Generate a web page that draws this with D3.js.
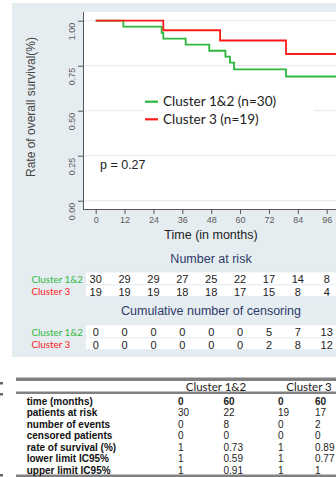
<!DOCTYPE html>
<html>
<head>
<meta charset="utf-8">
<script src="https://cdn.jsdelivr.net/npm/d3@7/dist/d3.min.js"></script>
<style>
  html, body { margin: 0; padding: 0; background: #fff; overflow: hidden; }
  svg { display: block; }
</style>
</head>
<body>
<svg id="chart" width="336" height="477"></svg>
<script>
// Kaplan-Meier steps (time in months, survival probability)
const greenTimes = [0, 11.5, 27.4, 28.1, 37.4, 47.2, 53.9, 55.8, 57.5, 79.1, 110];
const greenSurv  = [1, 0.967, 0.933, 0.9, 0.867, 0.833, 0.8, 0.767, 0.73, 0.69, 0.69];
const redTimes   = [0, 28.1, 51.7, 79.1, 110];
const redSurv    = [1, 0.947, 0.89, 0.815, 0.815];

const seriesNames = ["Cluster 1&2 (n=30)", "Cluster 3 (n=19)"];
const groupNames  = ["Cluster 1&2", "Cluster 3"];

const xTicks = [0, 12, 24, 36, 48, 60, 72, 84, 96];
const yTicks = [0, 0.25, 0.5, 0.75, 1];

// Number at risk and cumulative censoring at each x tick
const atRiskGreen = [30, 29, 29, 27, 25, 22, 17, 14, 8];
const atRiskRed   = [19, 19, 19, 18, 18, 17, 15, 8, 4];
const censGreen   = [0, 0, 0, 0, 0, 0, 5, 7, 13];
const censRed     = [0, 0, 0, 0, 0, 0, 2, 8, 12];

// Summary table
const tableRowLabels = ["time (months)", "patients at risk", "number of events",
  "censored patients", "rate of survival (%)", "lower limit IC95%", "upper limit IC95%"];
const tableGreen0  = ["0", "30", "0", "0", "1", "1", "1"];
const tableGreen60 = ["60", "22", "8", "0", "0.73", "0.59", "0.91"];
const tableRed0    = ["0", "19", "0", "0", "1", "1", "1"];
const tableRed60   = ["60", "17", "2", "0", "0.89", "0.77", "1"];

const GREEN = "#2db83d";
const RED = "#ff1a1a";
const AXIS = "#555";
const ARIAL = "'Liberation Sans', Arial, sans-serif";
const CAL = "Lato, 'Open Sans', sans-serif";

const svg = d3.select("#chart");

// Panel background
svg.append("rect").attr("x", 12).attr("y", 3).attr("width", 330).attr("height", 354)
  .attr("fill", "#e6edf1");

// Plot region
const plotL = 83, plotT = 12, plotB = 209, plotR = 340;
svg.append("rect").attr("x", plotL).attr("y", plotT)
  .attr("width", plotR - plotL).attr("height", plotB - plotT).attr("fill", "#fff");

const x = d3.scaleLinear().domain([0, 96]).range([95.7, 326.7]);
const y = d3.scaleLinear().domain([0, 1]).range([200.7, 20.7]);

// Gridlines
svg.append("g").selectAll("line").data(yTicks).join("line")
  .attr("x1", plotL).attr("x2", plotR)
  .attr("y1", d => y(d)).attr("y2", d => y(d))
  .attr("stroke", "#e1eaf0").attr("stroke-width", 1);

// Axis lines
svg.append("line").attr("x1", plotL + 0.5).attr("x2", plotL + 0.5)
  .attr("y1", plotT).attr("y2", plotB).attr("stroke", AXIS).attr("stroke-width", 1);
svg.append("line").attr("x1", plotL).attr("x2", plotR)
  .attr("y1", plotB + 0.5).attr("y2", plotB + 0.5).attr("stroke", AXIS).attr("stroke-width", 1);

// Y axis
const yAxis = svg.append("g").attr("transform", `translate(${plotL},0)`)
  .call(d3.axisLeft(y).tickValues(yTicks).tickFormat(d3.format(".2f")).tickSize(5).tickPadding(0));
yAxis.select(".domain").remove();
yAxis.selectAll(".tick line").attr("stroke", AXIS);
yAxis.selectAll(".tick text")
  .attr("transform", "translate(-11,1.5) rotate(-90)")
  .attr("x", 0).attr("dy", "0.35em")
  .attr("text-anchor", "end")
  .attr("fill", "#5a5a5a").style("font", `9px ${ARIAL}`);

// X axis
const xAxis = svg.append("g").attr("transform", `translate(0,${plotB})`)
  .call(d3.axisBottom(x).tickValues(xTicks).tickSize(5).tickPadding(3));
xAxis.select(".domain").remove();
xAxis.selectAll(".tick line").attr("stroke", AXIS);
xAxis.selectAll(".tick text").attr("fill", "#5a5a5a").style("font", `9px ${ARIAL}`);

// Axis titles
svg.append("text").attr("transform", "translate(35,107) rotate(-90)")
  .attr("text-anchor", "middle").attr("fill", "#444")
  .style("font", `12px ${ARIAL}`).text("Rate of overall survival(%)");
svg.append("text").attr("x", 211).attr("y", 239).attr("text-anchor", "middle")
  .attr("fill", "#222").style("font", `12.5px ${ARIAL}`).text("Time (in months)");

// Survival curves
const line = d3.line().x(d => x(d[0])).y(d => y(d[1])).curve(d3.curveStepAfter);
svg.append("clipPath").attr("id", "plotclip")
  .append("rect").attr("x", plotL).attr("y", 0).attr("width", 300).attr("height", plotB);
svg.append("path").datum(d3.zip(greenTimes, greenSurv)).attr("d", line)
  .attr("fill", "none").attr("stroke", GREEN).attr("stroke-width", 1.8)
  .attr("clip-path", "url(#plotclip)");
svg.append("path").datum(d3.zip(redTimes, redSurv)).attr("d", line)
  .attr("fill", "none").attr("stroke", RED).attr("stroke-width", 1.8)
  .attr("clip-path", "url(#plotclip)");

// Legend
const legend = svg.append("g");
legend.append("rect").attr("x", 143).attr("y", 92).attr("width", 171).attr("height", 38).attr("fill", "#fff");
[GREEN, RED].forEach((c, i) => {
  const ly = 101.7 + i * 17.6;
  legend.append("line").attr("x1", 145).attr("x2", 158).attr("y1", ly).attr("y2", ly)
    .attr("stroke", c).attr("stroke-width", 2.2);
  legend.append("text").attr("x", 163).attr("y", ly).attr("dy", "0.35em")
    .attr("fill", "#222").style("font", `13.6px ${CAL}`).text(seriesNames[i]);
});

svg.append("text").attr("x", 100).attr("y", 165).attr("dy", "0.35em")
  .attr("fill", "#222").style("font", `12.5px ${ARIAL}`).text("p = 0.27");

// Risk tables below the plot
function riskBlock(title, titleY, rowY, greenVals, redVals) {
  svg.append("text").attr("x", 211).attr("y", titleY).attr("dy", "0.35em")
    .attr("text-anchor", "middle").attr("fill", "#2f3a68")
    .style("font", `12.5px ${ARIAL}`).text(title);
  svg.append("rect").attr("x", 86).attr("y", rowY - 7.5).attr("width", 260).attr("height", 25)
    .attr("fill", "#fff");
  [rowY - 7.5, rowY + 5.5, rowY + 17.5].forEach(ly => {
    svg.append("line").attr("x1", 86).attr("x2", 346).attr("y1", ly).attr("y2", ly)
      .attr("stroke", "#e1eaf0").attr("stroke-width", 1);
  });
  [[greenVals, GREEN, 0], [redVals, RED, 1]].forEach(([vals, col, i]) => {
    const ry = rowY + i * 12.4;
    svg.append("text").attr("x", 31.5).attr("y", ry).attr("dy", "0.35em")
      .attr("fill", col).style("font", `9.8px ${CAL}`).text(groupNames[i]);
    svg.append("g").selectAll("text").data(vals).join("text")
      .attr("x", (d, j) => x(xTicks[j])).attr("y", ry).attr("dy", "0.35em")
      .attr("text-anchor", "middle").attr("fill", "#222")
      .style("font", `11px ${ARIAL}`).text(d => d);
  });
}
riskBlock("Number at risk", 258.3, 279.3, atRiskGreen, atRiskRed);
riskBlock("Cumulative number of censoring", 310.7, 332.3, censGreen, censRed);

// Summary table
const TGREY = "#808080";
svg.append("rect").attr("x", 16).attr("y", 377.5).attr("width", 330).attr("height", 3.5).attr("fill", TGREY);
svg.append("rect").attr("x", 16).attr("y", 391.5).attr("width", 330).attr("height", 2.5).attr("fill", TGREY);
svg.append("rect").attr("x", 16).attr("y", 474.5).attr("width", 330).attr("height", 3).attr("fill", TGREY);
[382, 393, 474].forEach(my => {
  svg.append("rect").attr("x", 0).attr("y", my).attr("width", 3).attr("height", 2.5).attr("fill", "#666");
});

svg.append("text").attr("x", 216).attr("y", 387).attr("dy", "0.35em").attr("text-anchor", "middle")
  .attr("fill", "#222").style("font", `11.5px ${CAL}`).text(groupNames[0]);
svg.append("text").attr("x", 309).attr("y", 387).attr("dy", "0.35em").attr("text-anchor", "middle")
  .attr("fill", "#222").style("font", `11.5px ${CAL}`).text(groupNames[1]);

const colX = [178, 223.5, 278, 315];
const cols = [tableGreen0, tableGreen60, tableRed0, tableRed60];
tableRowLabels.forEach((lab, i) => {
  const ry = 401 + i * 11.5;
  svg.append("text").attr("x", 26.7).attr("y", ry).attr("dy", "0.35em")
    .attr("fill", "#111").style("font", `bold 10px ${ARIAL}`).text(lab);
  cols.forEach((col, j) => {
    svg.append("text").attr("x", colX[j]).attr("y", ry).attr("dy", "0.35em")
      .attr("fill", "#222").style("font", `${i === 0 ? "bold " : ""}10px ${ARIAL}`).text(col[i]);
  });
});
</script>
</body>
</html>
